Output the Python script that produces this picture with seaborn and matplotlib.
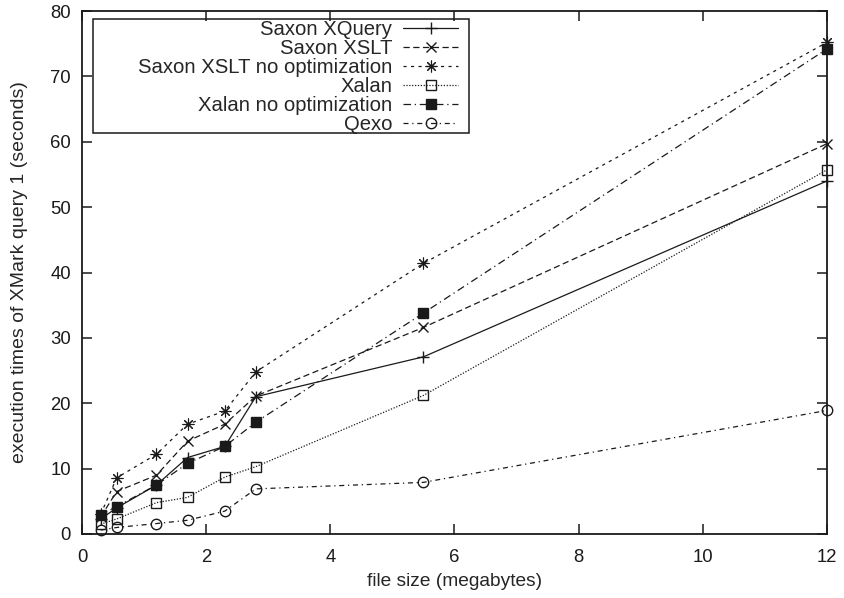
import matplotlib
matplotlib.use("Agg")
import matplotlib.pyplot as plt
from matplotlib.patches import Rectangle
import seaborn as sns

# file sizes (MB) and execution times (s) of XMark query 1
file_size = [0.3, 0.56, 1.2, 1.7, 2.3, 2.8, 5.5, 12]
saxon_xquery = [2.3, 4.0, 7.5, 11.7, 13.4, 21.0, 27.1, 54.0]
saxon_xslt = [2.6, 6.5, 9.0, 14.2, 16.8, 21.1, 31.6, 59.7]
saxon_xslt_noopt = [3.0, 8.6, 12.2, 16.8, 18.8, 24.8, 41.4, 75.2]
xalan = [1.5, 2.3, 4.8, 5.6, 8.7, 10.3, 21.2, 55.7]
xalan_noopt = [2.9, 4.2, 7.5, 10.8, 13.4, 17.1, 33.8, 74.2]
qexo = [0.6, 1.0, 1.6, 2.1, 3.5, 6.9, 7.9, 18.9]

series_names = ["Saxon XQuery", "Saxon XSLT", "Saxon XSLT no optimization",
                "Xalan", "Xalan no optimization", "Qexo"]
series_values = [saxon_xquery, saxon_xslt, saxon_xslt_noopt,
                 xalan, xalan_noopt, qexo]

x_ticks = [0, 2, 4, 6, 8, 10, 12]
y_ticks = [0, 10, 20, 30, 40, 50, 60, 70, 80]

sns.set_theme(style="ticks")
plt.rcParams["font.family"] = ["Liberation Sans", "DejaVu Sans"]
plt.rcParams["font.size"] = 13.5

# gnuplot-like point/line types
styles = [
    dict(marker="+", ms=9, mfc="k", mew=1.0, ls="-"),
    dict(marker="x", ms=7, mfc="k", mew=1.0, ls=(0, (5, 2.8))),
    dict(marker=(8, 2, 0), ms=8.5, mfc="k", mew=0.8, ls=(0, (2.5, 3.5))),
    dict(marker="s", ms=7, mfc="none", mew=1.0, ls=(0, (1, 1.3))),
    dict(marker="s", ms=7, mfc="k", mew=1.0, ls=(0, (6, 3, 1, 3))),
    dict(marker="o", ms=7.5, mfc="none", mew=1.0, ls=(0, (4, 3, 1, 3))),
]

fig = plt.figure(figsize=(8.45, 5.98), dpi=100)
ax = fig.add_axes([82 / 845, 1 - 534 / 598, 745 / 845, 523 / 598])

for name, vals, st in zip(series_names, series_values, styles):
    sns.lineplot(x=file_size, y=vals, ax=ax, color="k", lw=0.9,
                 marker=st["marker"], markersize=st["ms"],
                 markerfacecolor=st["mfc"], mec="k", mew=st["mew"],
                 linestyle=st["ls"], label=name, clip_on=False,
                 errorbar=None, sort=False)

ax.set_xlim(0, 12)
ax.set_ylim(0, 80)
ax.set_xticks(x_ticks)
ax.set_yticks(y_ticks)
ax.set_xticklabels([str(t) for t in x_ticks])
ax.set_yticklabels([str(t) for t in y_ticks])
ax.tick_params(direction="in", length=7, width=1.1, top=True, right=True,
               labelsize=13.3, pad=8, colors="k")
ax.tick_params(axis="x", pad=11)
for sp in ax.spines.values():
    sp.set_visible(True)
    sp.set_linewidth(1.3)
    sp.set_color("k")

ax.set_xlabel("file size (megabytes)", fontsize=13.8, labelpad=5)
ax.set_ylabel("execution times of XMark query 1 (seconds)", fontsize=14,
              labelpad=16)

# key: labels right-aligned, samples on the right
leg = ax.legend(loc="upper right", bbox_to_anchor=((458 - 82) / 745, (534 - 20) / 523),
                frameon=False, markerfirst=False, borderpad=0, borderaxespad=0,
                handlelength=2.7, handletextpad=0.55, labelspacing=0.0,
                fontsize=14.6, numpoints=1)
ax.add_patch(Rectangle(((93 - 82) / 745, (534 - 133) / 523),
                       (469 - 93) / 745, (133 - 19) / 523,
                       transform=ax.transAxes, fill=False, ec="k", lw=1.1,
                       zorder=5, clip_on=False))

fig.savefig("out.png", dpi=100)
